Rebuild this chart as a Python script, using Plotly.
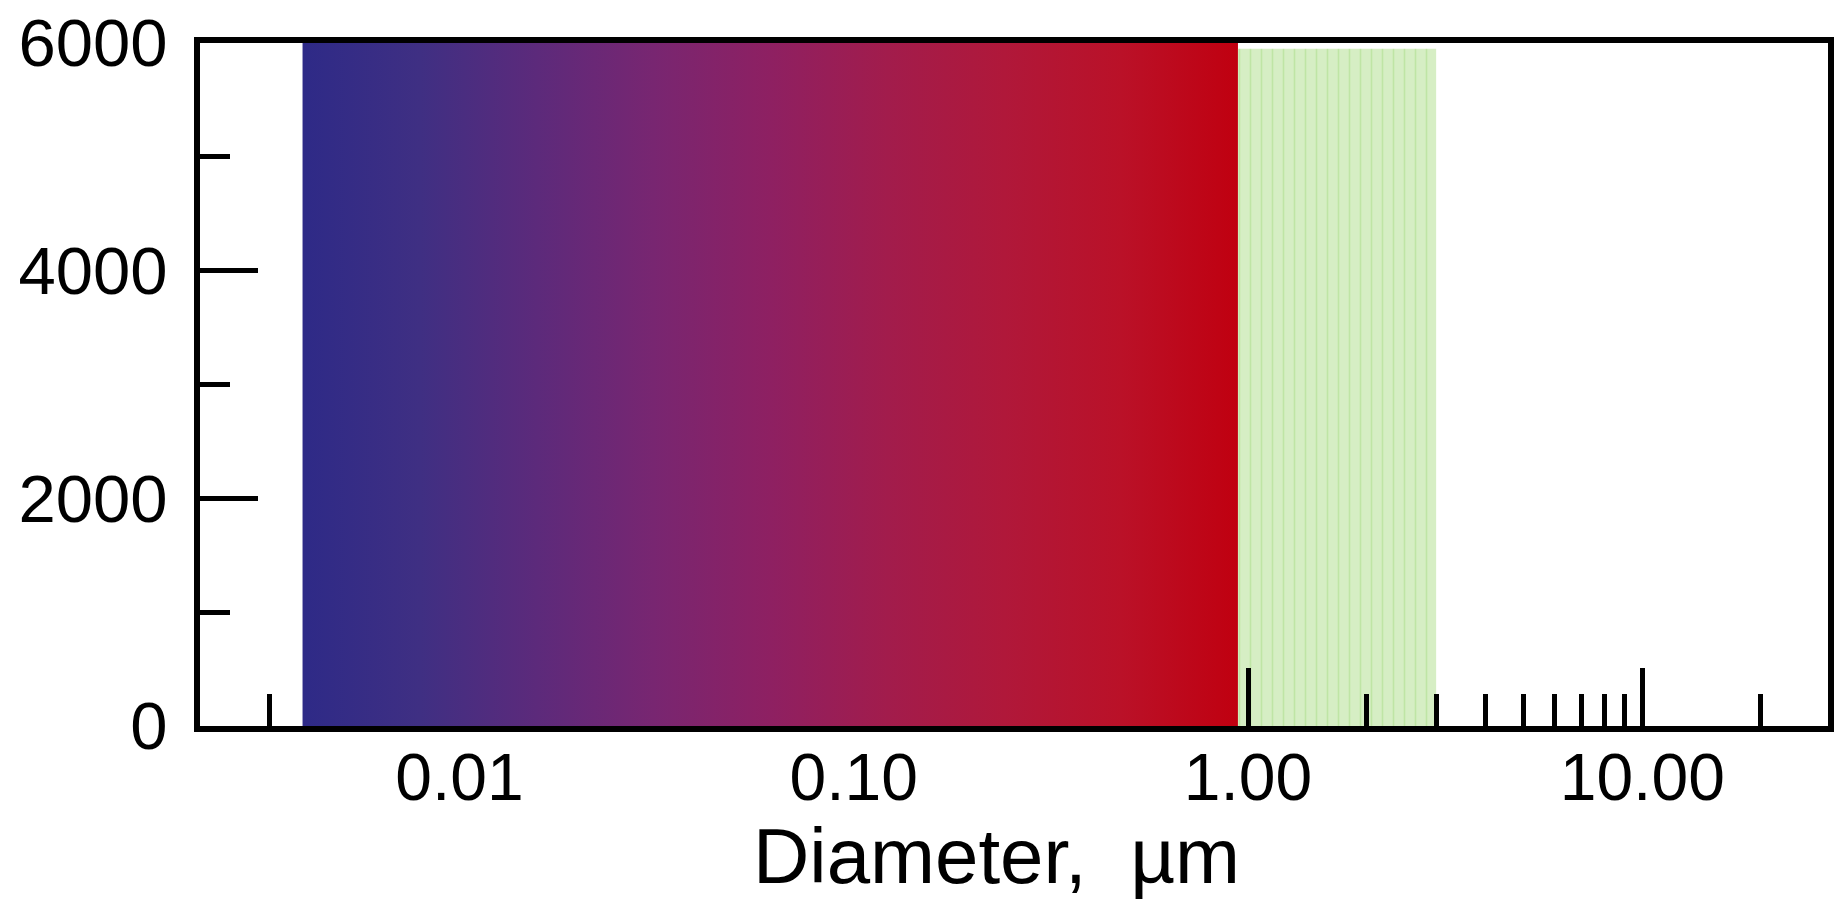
import plotly.graph_objects as go

# ---- data ----
gradient_x = [0.004, 0.943]          # coloured band (blue -> red), diameter in µm
gradient_top = 6000
green_x = [0.943, 3.0]               # light green band
green_top = 5950
gradient_colors = ["#2E2A87", "#3F2F83", "#5C2A7B", "#782671", "#8E2062",
                   "#A21C4C", "#B0183A", "#BA1128", "#C00010"]

x_major_vals = [0.01, 0.1, 1, 10]
x_major_text = ["0.01", "0.10", "1.00", "10.00"]
x_long_ticks = [1, 10]
x_short_ticks = [0.0033, 2, 3, 4, 5, 6, 7, 8, 9, 20]
y_major_vals = [0, 2000, 4000, 6000]
y_minor_vals = [1000, 3000, 5000]

x_range_log = [-2.658, 1.471]
y_range = [0, 6000]

FONT = "Liberation Sans, Arial, sans-serif"

n = len(gradient_colors)
cscale = [[i / (n - 1), c] for i, c in enumerate(gradient_colors)]

fig = go.Figure()

fig.add_trace(go.Scatter(
    x=[gradient_x[0], gradient_x[1], gradient_x[1], gradient_x[0], gradient_x[0]],
    y=[0, 0, gradient_top, gradient_top, 0],
    mode="lines", line=dict(width=0), fill="toself",
    fillgradient=dict(type="horizontal", colorscale=cscale),
    hoverinfo="skip", showlegend=False,
))

fig.add_trace(go.Scatter(
    x=[green_x[0], green_x[1], green_x[1], green_x[0], green_x[0]],
    y=[0, 0, green_top, green_top, 0],
    mode="lines", line=dict(width=0), fill="toself",
    fillcolor="#D6EEC4",
    fillpattern=dict(shape="|", bgcolor="#D6EEC4", fgcolor="#A8DB86",
                     size=11, solidity=0.15),
    xaxis="x2",
    hoverinfo="skip", showlegend=False,
))

fig.update_layout(
    width=1839, height=904,
    margin=dict(l=200, r=5, t=35, b=178),
    paper_bgcolor="white", plot_bgcolor="white",
    showlegend=False,
    font=dict(family=FONT, color="black"),
    xaxis=dict(
        type="log", range=x_range_log,
        tickmode="array", tickvals=x_major_vals, ticktext=x_major_text,
        ticks="", showgrid=False, zeroline=False,
        showline=True, linecolor="black", linewidth=6, mirror=True,
        tickfont=dict(size=66, family=FONT, color="black"),
        ticklabelstandoff=-11,
        minor=dict(tickmode="array", tickvals=x_short_ticks, ticks="inside",
                   ticklen=32, tickwidth=5, tickcolor="black", showgrid=False),
    ),
    xaxis2=dict(
        type="log", range=x_range_log, matches="x", overlaying="x", anchor="y",
        side="bottom",
        tickmode="array", tickvals=x_long_ticks, showticklabels=False,
        ticks="inside", ticklen=58, tickwidth=5, tickcolor="black",
        showgrid=False, zeroline=False, showline=False,
    ),
    yaxis=dict(
        range=y_range,
        tickmode="array", tickvals=y_major_vals,
        ticks="inside", ticklen=58, tickwidth=5, tickcolor="black",
        showgrid=False, zeroline=False,
        showline=True, linecolor="black", linewidth=6, mirror=True,
        tickfont=dict(size=67, family=FONT, color="black"),
        ticklabelstandoff=13, ticklabeloverflow="allow",
        minor=dict(tickmode="array", tickvals=y_minor_vals, ticks="inside",
                   ticklen=30, tickwidth=5, tickcolor="black", showgrid=False),
    ),
    annotations=[dict(
        text="Diameter,\u00a0 µm", xref="paper", yref="paper",
        x=0.489, y=-0.191, xanchor="center", yanchor="middle",
        showarrow=False, font=dict(size=78, family=FONT, color="black"),
    )],
)

fig.write_html("out.html")
